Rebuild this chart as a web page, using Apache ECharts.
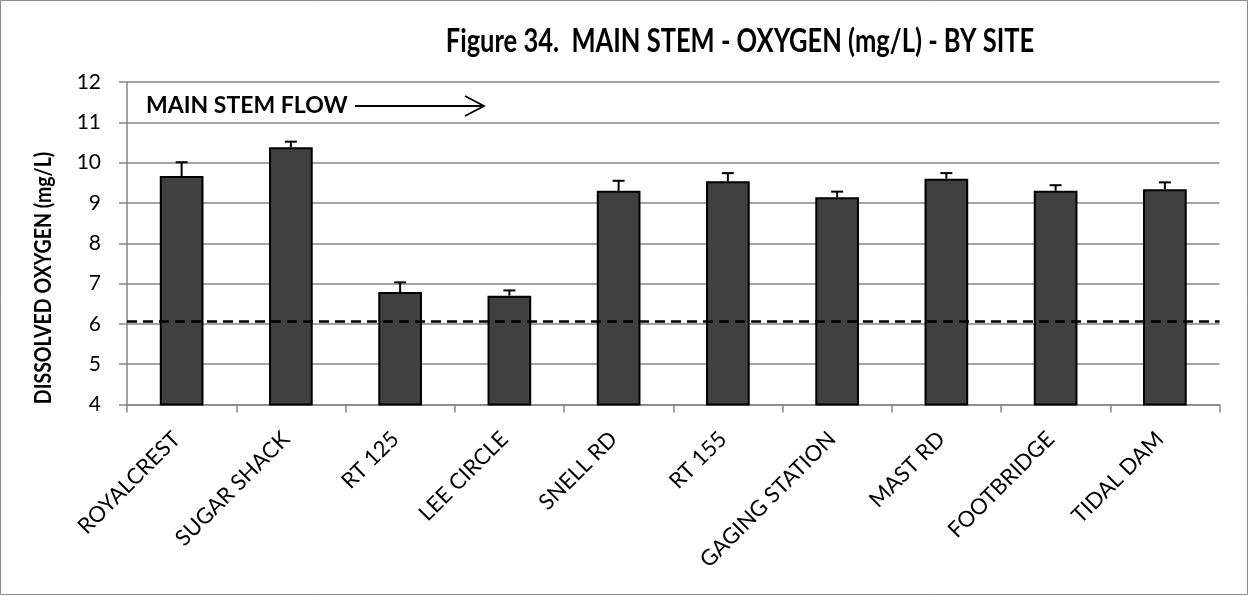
<!DOCTYPE html>
<html><head><meta charset="utf-8">
<script src="https://cdn.jsdelivr.net/npm/echarts@6/dist/echarts.min.js"></script>
<style>html,body{margin:0;padding:0;background:#fff}#c{width:1249px;height:596px}</style>
</head><body><div id="c"></div>
<script>
var sites = ['ROYALCREST','SUGAR SHACK','RT 125','LEE CIRCLE','SNELL RD','RT 155','GAGING STATION','MAST RD','FOOTBRIDGE','TIDAL DAM'];
var doMean = [9.67, 10.38, 6.79, 6.70, 9.30, 9.54, 9.14, 9.60, 9.30, 9.34];
var doErr = [0.34, 0.14, 0.24, 0.13, 0.25, 0.20, 0.14, 0.14, 0.14, 0.17];
var standardLine = 6.06;
var yTicks = [4,5,6,7,8,9,10,11,12];

var FONT = 'Lato';
var chart = echarts.init(document.getElementById('c'), null, {renderer:'canvas'});
var errData = doMean.map(function(v,i){ return [i, v, v + doErr[i]]; });

chart.setOption({
  animation: false,
  backgroundColor: '#fff',
  grid: {left: 127, right: 29.5, top: 82, bottom: 191.5, containLabel: false},
  xAxis: {
    type: 'category', data: sites,
    axisLine: {lineStyle: {color: '#868686', width: 1.5}},
    axisTick: {show: true, alignWithLabel: false, length: 8, lineStyle: {color: '#868686', width: 1.5}},
    axisLabel: {rotate: 45, interval: 0, margin: 26, padding: [0, 7, 0, 0], fontFamily: FONT, fontSize: 22, color: '#000'}
  },
  yAxis: {
    type: 'value', min: yTicks[0], max: yTicks[yTicks.length-1], interval: 1,
    axisLine: {show: true, lineStyle: {color: '#868686', width: 1.5}},
    axisTick: {show: true, length: 8, lineStyle: {color: '#868686', width: 1.5}},
    axisLabel: {margin: 26, fontFamily: FONT, fontSize: 21, color: '#000'},
    splitLine: {lineStyle: {color: '#868686', width: 1.5}}
  },
  graphic: [
    {type: 'rect', shape: {x: 0.5, y: 0.5, width: 1247, height: 594}, style: {fill: 'none', stroke: '#8c8c8c', lineWidth: 1}, z: 100},
    {type: 'text', x: 740, y: 42, scaleY: 1.25,
      style: {text: 'Figure 34.  MAIN STEM - OXYGEN (mg/L) - BY SITE', fontFamily: FONT, fontWeight: 'bold', fontSize: 25.5, fill: '#000', align: 'center', verticalAlign: 'middle'}},
    {type: 'text', x: 44, y: 278, rotation: Math.PI/2, scaleY: 1.15,
      style: {text: 'DISSOLVED OXYGEN (mg/L)', fontFamily: FONT, fontWeight: 'bold', fontSize: 19.5, fill: '#000', align: 'center', verticalAlign: 'middle'}},
    {type: 'text', x: 146, y: 106,
      style: {text: 'MAIN STEM FLOW', fontFamily: FONT, fontWeight: 'bold', fontSize: 23, fill: '#000', align: 'left', verticalAlign: 'middle'}},
    {type: 'line', shape: {x1: 355, y1: 106, x2: 484, y2: 106}, style: {stroke: '#000', lineWidth: 1.8}},
    {type: 'polyline', shape: {points: [[465, 96], [484, 106], [465, 116]]}, style: {stroke: '#000', lineWidth: 1.8, fill: 'none'}}
  ],
  series: [
    {
      type: 'bar', data: doMean, barWidth: '40%',
      itemStyle: {color: '#404040', borderColor: '#000', borderWidth: 2},
      markLine: {
        silent: true, symbol: 'none', label: {show: false},
        lineStyle: {color: '#000', type: [10, 6], width: 2.5},
        data: [{yAxis: standardLine}]
      },
      z: 2
    },
    {
      type: 'custom', data: errData, z: 3,
      renderItem: function(params, api){
        var x = api.value(0);
        var p0 = api.coord([x, api.value(1)]);
        var p1 = api.coord([x, api.value(2)]);
        var hw = 6;
        return {type: 'group', children: [
          {type: 'line', shape: {x1: p0[0], y1: p0[1], x2: p1[0], y2: p1[1]}, style: {stroke: '#000', lineWidth: 2}},
          {type: 'line', shape: {x1: p1[0]-hw, y1: p1[1], x2: p1[0]+hw, y2: p1[1]}, style: {stroke: '#000', lineWidth: 2}}
        ]};
      }
    }
  ]
});
</script></body></html>
